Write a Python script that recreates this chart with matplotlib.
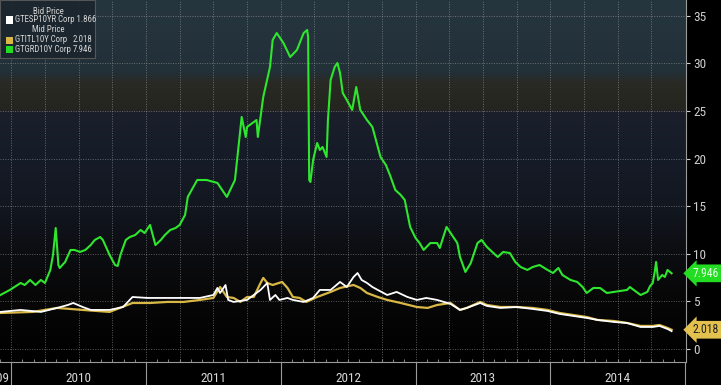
import numpy as np
import matplotlib
matplotlib.use("Agg")
import matplotlib.pyplot as plt
from matplotlib import font_manager
from matplotlib.patches import Rectangle
from matplotlib.transforms import blended_transform_factory

installed = {f.name for f in font_manager.fontManager.ttflist}
narrow = next((n for n in ['Liberation Sans Narrow', 'DejaVu Sans Condensed', 'Roboto Condensed',
                           'Open Sans Condensed', 'Liberation Sans'] if n in installed), 'DejaVu Sans')
plt.rcParams['font.family'] = [narrow, 'DejaVu Sans']

# ---- data (decimal years, yield in %) ----
grc_t = [2009.92, 2009.99, 2010.07, 2010.10, 2010.14, 2010.18, 2010.22, 2010.25, 2010.29, 2010.31,
         2010.33, 2010.35, 2010.36, 2010.40, 2010.44, 2010.47, 2010.51, 2010.55, 2010.59, 2010.62,
         2010.66, 2010.68, 2010.73, 2010.77, 2010.79, 2010.81, 2010.85, 2010.88, 2010.92, 2010.96,
         2010.99, 2011.03, 2011.07, 2011.11, 2011.14, 2011.18, 2011.22, 2011.25, 2011.29, 2011.31,
         2011.38, 2011.45, 2011.53, 2011.60, 2011.66, 2011.71, 2011.74, 2011.75, 2011.82, 2011.83,
         2011.87, 2011.92, 2011.94, 2011.97, 2012.02, 2012.07, 2012.12, 2012.17, 2012.196, 2012.203,
         2012.211, 2012.22, 2012.24, 2012.27, 2012.29, 2012.31, 2012.34, 2012.35, 2012.37, 2012.40,
         2012.42, 2012.44, 2012.46, 2012.49, 2012.53, 2012.56, 2012.59, 2012.64, 2012.68, 2012.72,
         2012.74, 2012.78, 2012.81, 2012.85, 2012.89, 2012.92, 2012.96, 2013.00, 2013.03, 2013.06,
         2013.11, 2013.16, 2013.18, 2013.23, 2013.26, 2013.31, 2013.33, 2013.37, 2013.41, 2013.46,
         2013.49, 2013.53, 2013.61, 2013.65, 2013.70, 2013.74, 2013.78, 2013.83, 2013.87, 2013.92,
         2013.98, 2014.02, 2014.06, 2014.09, 2014.15, 2014.20, 2014.24, 2014.27, 2014.32, 2014.37,
         2014.42, 2014.47, 2014.57, 2014.59, 2014.67, 2014.72, 2014.74, 2014.76, 2014.775, 2014.785,
         2014.80, 2014.83, 2014.85, 2014.87, 2014.90]
grc_y = [5.67, 6.20, 6.93, 6.72, 7.25, 6.72, 7.25, 6.93, 8.30, 9.87,
         12.71, 8.82, 8.51, 9.14, 10.40, 10.40, 10.19, 10.40, 10.92, 11.45,
         11.76, 11.45, 9.87, 8.82, 8.72, 9.87, 11.45, 11.76, 11.97, 12.50,
         12.18, 13.03, 10.92, 11.45, 11.97, 12.50, 12.71, 13.03, 14.08, 15.97,
         17.75, 17.75, 17.44, 15.97, 17.75, 24.37, 22.27, 23.32, 24.05, 22.27,
         26.47, 29.62, 32.46, 33.19, 32.14, 30.67, 31.41, 33.19, 33.51, 32.77,
         17.75, 17.54, 19.85, 21.64, 20.90, 21.22, 20.17, 24.05, 28.26, 29.62,
         30.04, 28.99, 26.89, 26.16, 25.11, 27.52, 25.11, 24.05, 23.32, 21.22,
         20.17, 19.33, 18.28, 16.70, 16.18, 15.65, 12.82, 11.66, 11.13, 10.40,
         11.13, 11.13, 10.61, 12.82, 12.18, 11.13, 9.66, 8.09, 9.03, 11.13,
         11.45, 10.71, 9.66, 10.19, 10.08, 9.14, 8.61, 8.30, 8.61, 8.82,
         8.30, 7.98, 8.51, 7.77, 7.25, 7.04, 6.51, 5.88, 6.41, 6.40,
         5.88, 5.99, 6.20, 6.51, 5.67, 5.99, 6.60, 6.93, 8.09, 9.14,
         7.25, 7.77, 7.56, 8.30, 7.95]

esp_t = [2009.92, 2010.07, 2010.22, 2010.34, 2010.42, 2010.46, 2010.53, 2010.59, 2010.73, 2010.83,
         2010.90, 2011.01, 2011.16, 2011.31, 2011.40, 2011.50, 2011.53, 2011.55, 2011.59, 2011.61,
         2011.65, 2011.75, 2011.85, 2011.90, 2011.92, 2011.96, 2011.99, 2012.05, 2012.09, 2012.17,
         2012.24, 2012.29, 2012.37, 2012.44, 2012.49, 2012.54, 2012.57, 2012.60, 2012.64, 2012.68,
         2012.72, 2012.79, 2012.86, 2012.94, 2013.01, 2013.08, 2013.16, 2013.26, 2013.33, 2013.38,
         2013.48, 2013.53, 2013.63, 2013.75, 2013.87, 2013.98, 2014.07, 2014.17, 2014.27, 2014.35,
         2014.47, 2014.57, 2014.67, 2014.76, 2014.81, 2014.87, 2014.90]
esp_y = [3.89, 4.10, 3.89, 4.31, 4.62, 4.83, 4.41, 4.10, 4.10, 4.41,
         5.46, 5.36, 5.36, 5.36, 5.36, 5.67, 6.41, 5.88, 6.72, 5.15,
         4.94, 5.15, 6.20, 6.93, 5.15, 5.67, 5.15, 5.36, 5.15, 4.94,
         5.36, 6.20, 6.20, 7.04, 6.51, 7.56, 7.98, 7.25, 6.93, 6.51,
         6.20, 5.67, 5.99, 5.46, 5.15, 5.36, 5.15, 4.73, 4.10, 4.31,
         4.83, 4.52, 4.31, 4.41, 4.20, 3.99, 3.68, 3.47, 3.26, 3.05,
         2.84, 2.73, 2.31, 2.31, 2.42, 2.10, 1.87]

ita_t = [2009.92, 2010.16, 2010.34, 2010.53, 2010.73, 2010.90, 2011.03, 2011.16, 2011.28, 2011.40,
         2011.50, 2011.55, 2011.60, 2011.65, 2011.70, 2011.75, 2011.80, 2011.85, 2011.87, 2011.90,
         2011.94, 2012.01, 2012.05, 2012.09, 2012.14, 2012.19, 2012.27, 2012.37, 2012.44, 2012.54,
         2012.59, 2012.64, 2012.72, 2012.79, 2012.89, 2013.01, 2013.09, 2013.16, 2013.26, 2013.33,
         2013.38, 2013.48, 2013.53, 2013.63, 2013.75, 2013.87, 2013.98, 2014.07, 2014.17, 2014.27,
         2014.35, 2014.47, 2014.57, 2014.67, 2014.76, 2014.81, 2014.87, 2014.90]
ita_y = [3.78, 3.89, 4.31, 4.10, 3.89, 4.83, 4.83, 4.94, 4.94, 5.15,
         5.36, 6.51, 5.46, 5.36, 4.94, 5.46, 5.46, 6.93, 7.46, 6.93,
         6.72, 7.04, 6.41, 5.46, 5.36, 4.94, 5.46, 5.99, 6.41, 6.72,
         6.41, 5.88, 5.46, 5.15, 4.83, 4.41, 4.31, 4.62, 4.83, 4.10,
         4.31, 4.94, 4.62, 4.41, 4.41, 4.31, 4.10, 3.78, 3.57, 3.36,
         3.05, 2.94, 2.73, 2.42, 2.42, 2.52, 2.21, 2.02]

years = [2010, 2011, 2012, 2013, 2014]
last_grc, last_ita, last_esp = 7.946, 2.018, 1.866

# ---- figure ----
fig = plt.figure(figsize=(7.21, 3.85), dpi=100, facecolor='black')
ax = fig.add_axes([0, 23 / 385, 686 / 721, 362 / 385])
ax.set_xlim(2009.918, 2015.007)
ax.set_ylim(-1.37, 36.66)

# banded dark background
stops = [-1.4, 5.0, 10.0, 15.0, 20.0, 24.8, 25.2, 28.0, 29.2, 36.7]
cols = ['#000000', '#070707', '#0c0d11', '#121720', '#161b28',
        '#1b1f2c', '#25251f', '#2a2a25', '#223038', '#26363f']
rgb = np.array([matplotlib.colors.to_rgb(c) for c in cols])
yy = np.linspace(-1.4, 36.7, 400)
grad = np.stack([np.interp(yy, stops, rgb[:, i]) for i in range(3)], axis=-1)[:, None, :]
ax.imshow(grad, extent=[2009.9, 2015.1, -1.4, 36.7], origin='lower', aspect='auto', zorder=0)

# grid
for q in np.arange(2009.75, 2015.0, 0.25):
    ax.axvline(q, color='#b0b0b0', ls=(0, (1, 1.5)), lw=0.7, alpha=0.5, zorder=1)
for v in range(0, 40, 5):
    ax.axhline(v, color='#b0b0b0', ls=(0, (1, 1.5)), lw=0.7, alpha=0.5, zorder=1)

# lines
ax.plot(grc_t, grc_y, color='#2ee62e', lw=1.5, zorder=4)
ax.plot(ita_t, ita_y, color='#d9b845', lw=1.6, zorder=3)
ax.plot(esp_t, esp_y, color='#ffffff', lw=1.3, zorder=3)

# axes styling
for s in ['top', 'left']:
    ax.spines[s].set_visible(False)
for s in ['right', 'bottom']:
    ax.spines[s].set_color('#9a9a9a')
    ax.spines[s].set_linewidth(0.8)
ax.yaxis.tick_right()
ax.set_yticks(range(0, 40, 5))
ax.tick_params(axis='y', colors='#cfcfcf', labelsize=9.5, length=3, width=0.8, pad=2)
ax.set_xticks([2010, 2011, 2012, 2013, 2014, 2015])
ax.set_xticklabels([])
ax.set_xticks(np.arange(2009 + 11 / 12, 2015, 1 / 12), minor=True)
ax.tick_params(axis='x', which='major', colors='#9a9a9a', length=17, width=0.8, direction='out')
ax.tick_params(axis='x', which='minor', colors='#9a9a9a', length=2, width=0.6, direction='in')

tr = blended_transform_factory(ax.transData, ax.transAxes)
for yr in years:
    ax.text(yr + 0.5, -0.045, str(yr), transform=tr, ha='center', va='center',
            color='#d8d8d8', fontsize=9.5, clip_on=False)
ax.text(2009.985, -0.045, '2009', transform=tr, ha='right', va='center',
        color='#d8d8d8', fontsize=9.5, clip_on=False)

# value tags on right axis
trr = blended_transform_factory(ax.transAxes, ax.transData)
ax.text(1.01, last_grc, f'{last_grc:.3f}', transform=trr, ha='left', va='center',
        fontsize=8.5, color='#eaffea', clip_on=False,
        bbox=dict(boxstyle='larrow,pad=0.2', fc='#22dd22', ec='none'))
ax.text(1.01, last_ita, f'{last_ita:.3f}', transform=trr, ha='left', va='center',
        fontsize=8.5, color='#202020', clip_on=False,
        bbox=dict(boxstyle='larrow,pad=0.2', fc='#e2c14e', ec='none'))

# legend box
W, H = 721, 385
fig.patches.append(Rectangle((0, 1 - 58 / H), 95 / W, 58 / H, transform=fig.transFigure,
                             fc='#1b252d', ec='#5a5a5a', lw=0.8, alpha=0.92, zorder=10))
lab = dict(color='#d8d8d8', fontsize=6.3, va='center', zorder=11)
fig.text(48 / W, 1 - 11 / H, 'Bid Price', ha='center', **lab)
fig.text(48 / W, 1 - 30 / H, 'Mid Price', ha='center', **lab)
rows = [(20, '#ffffff', 'GTESP10YR Corp', last_esp),
        (40, '#d9b845', 'GTITL10Y Corp', last_ita),
        (49, '#22dd22', 'GTGRD10Y Corp', last_grc)]
for i, (py, c, name, val) in enumerate(rows):
    fig.patches.append(Rectangle((6 / W, 1 - (py + 3.5) / H), 7 / W, 7 / H,
                                 transform=fig.transFigure, fc=c, ec='none', zorder=11))
    if i == 0:
        fig.text(15 / W, 1 - py / H, f'{name} {val:.3f}', ha='left', **lab)
    else:
        fig.text(15 / W, 1 - py / H, name, ha='left', **lab)
        fig.text(92 / W, 1 - py / H, f'{val:.3f}', ha='right', **lab)

fig.savefig('out.png', dpi=100, facecolor='black')
